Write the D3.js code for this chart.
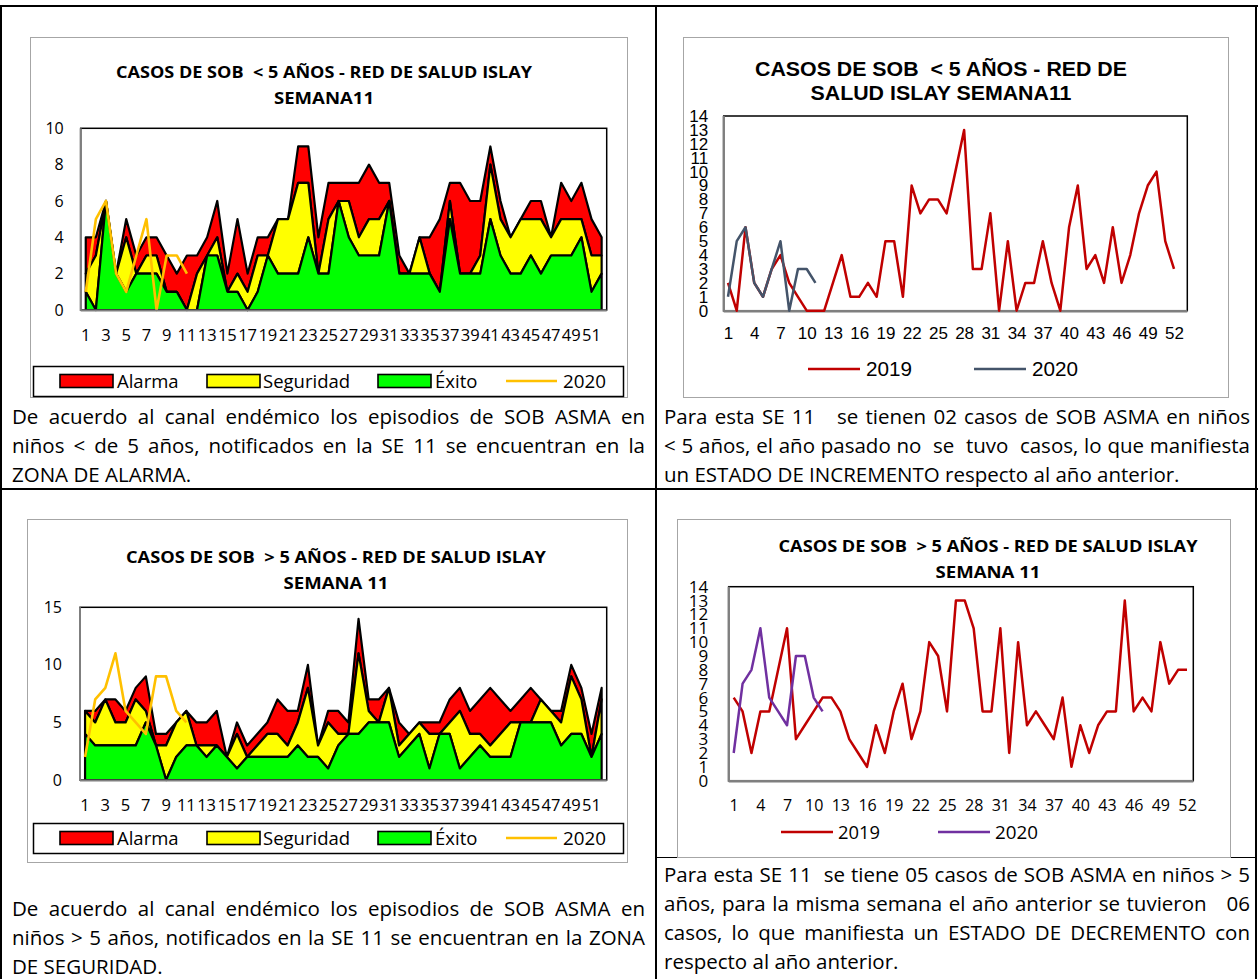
<!DOCTYPE html>
<html><head><meta charset="utf-8">
<script src="https://cdn.jsdelivr.net/npm/d3@7"></script>
<style>body{margin:0;background:#fff}svg{display:block}</style>
</head><body>
<svg id="c" width="1258" height="979"></svg>
<script>
// ---------------- DATA ----------------
const weeks = d3.range(1, 53);
const xTicksOdd = weeks.filter(w => w % 2 === 1);
const xTicksTri = weeks.filter(w => (w - 1) % 3 === 0);
const yTicksMenores = [0, 2, 4, 6, 8, 10];
const yTicksMayores = [0, 5, 10, 15];
const yTicksLineas = d3.range(0, 15);

// Canal endémico < 5 años (límites superiores de cada zona)
const menoresExito     = [1,0,6,2,1,2,2,2,1,1,0,0,3,3,1,1,0,1,3,2,2,2,4,2,2,6,4,3,3,3,6,2,2,2,2,1,5,2,2,2,5,3,2,2,3,2,3,3,3,4,1,2];
const menoresSeguridad = [2,3,6,2,4,2,3,3,1,1,0,2,3,4,1,2,1,3,3,5,5,7,7,2,5,6,6,4,5,5,6,2,2,4,2,1,6,2,2,3,8,5,4,5,5,5,4,5,5,5,3,3];
const menoresAlarma    = [4,4,6,2,5,3,4,4,3,2,3,3,4,6,2,5,2,4,4,5,5,9,9,4,7,7,7,7,8,7,7,3,2,4,4,5,7,7,6,6,9,6,4,5,6,6,4,7,6,7,5,4];
const menores2020      = [1,5,6,2,1,3,5,0,3,3,2];

// Canal endémico > 5 años
const mayoresExito     = [4,3,3,3,3,3,5,3,0,2,3,3,2,3,2,1,2,2,2,2,2,3,2,2,1,3,4,4,5,5,5,2,3,4,1,4,4,1,2,3,2,2,2,5,5,5,5,3,4,4,2,4];
const mayoresSeguridad = [6,5,7,5,5,7,6,3,3,5,6,3,3,3,2,4,2,3,4,4,3,5,8,3,5,4,4,11,6,5,8,3,4,5,4,4,5,6,4,4,3,4,5,5,5,7,6,5,9,7,2,7];
const mayoresAlarma    = [6,6,7,7,6,8,9,4,4,5,6,5,5,6,2,5,3,4,5,7,6,6,10,3,6,6,5,14,7,7,8,5,4,5,5,5,7,8,6,7,8,7,6,7,8,7,6,6,10,8,4,8];
const mayores2020      = [2,7,8,11,6,5,4,9,9,6,5];

// Casos semanales (líneas)
const menoresCasos2019 = [2,0,6,2,1,3,4,2,1,0,0,0,2,4,1,1,2,1,5,5,1,9,7,8,8,7,10,13,3,3,7,0,5,0,2,2,5,2,0,6,9,3,4,2,6,2,4,7,9,10,5,3];
const menoresCasos2020 = [1,5,6,2,1,3,5,0,3,3,2];
const mayoresCasos2019 = [6,5,2,5,5,8,11,3,4,5,6,6,5,3,2,1,4,2,5,7,3,5,10,9,5,13,13,11,5,5,11,2,10,4,5,4,3,6,1,4,2,4,5,5,13,5,6,5,10,7,8,8];
const mayoresCasos2020 = [2,7,8,11,6,5,4,9,9,6,5];

const legendEndemico = ["Alarma", "Seguridad", "Éxito", "2020"];
const legendLineas = ["2019", "2020"];

const textoTL = ["De acuerdo al canal endémico los episodios de SOB ASMA en",
  "niños < de 5 años, notificados en la SE 11 se encuentran en la",
  "ZONA DE ALARMA."];
const textoTR = ["Para esta SE 11   se tienen 02 casos de SOB ASMA en niños",
  "< 5 años, el año pasado no  se  tuvo  casos, lo que manifiesta",
  "un ESTADO DE INCREMENTO respecto al año anterior."];
const textoBL = ["De acuerdo al canal endémico los episodios de SOB ASMA en",
  "niños > 5 años, notificados en la SE 11 se encuentran en la ZONA",
  "DE SEGURIDAD."];
const textoBR = ["Para esta SE 11  se tiene 05 casos de SOB ASMA en niños > 5",
  "años, para la misma semana el año anterior se tuvieron   06",
  "casos, lo que manifiesta un ESTADO DE DECREMENTO con",
  "respecto al año anterior."];

// ---------------- DRAWING ----------------
const CAL = "'Open Sans', Lato, sans-serif";
const ARIAL = "'Liberation Sans', Arial, Helvetica, sans-serif";
const COL = {alarma: "#FF0000", seguridad: "#FFFF00", exito: "#00FF00", y2020: "#FFC000"};
const svg = d3.select("#c");
svg.append("rect").attr("width", 1258).attr("height", 979).attr("fill", "#fff");

function fitText(sel, w) {
  if (!w) return sel;
  const n = sel.node().getComputedTextLength();
  if (Math.abs(n - w) / w > 0.015) sel.attr("textLength", w).attr("lengthAdjust", "spacingAndGlyphs");
  return sel;
}
function box(g, b, stroke, sw) {
  g.append("rect").attr("x", b[0] + 0.5).attr("y", b[1] + 0.5)
    .attr("width", b[2] - b[0]).attr("height", b[3] - b[1])
    .attr("fill", "none").attr("stroke", stroke || "#a6a6a6").attr("stroke-width", sw || 1);
}

// table borders
const tb = svg.append("g").attr("stroke", "#000").attr("stroke-width", 2);
tb.append("line").attr("x1", 0).attr("x2", 1258).attr("y1", 6).attr("y2", 6);
tb.append("line").attr("x1", 1).attr("x2", 1).attr("y1", 6).attr("y2", 979);
tb.append("line").attr("x1", 1256).attr("x2", 1256).attr("y1", 6).attr("y2", 979);
tb.append("line").attr("x1", 656).attr("x2", 656).attr("y1", 6).attr("y2", 979);
tb.append("line").attr("x1", 0).attr("x2", 1258).attr("y1", 489).attr("y2", 489);
tb.append("line").attr("x1", 656).attr("x2", 1256).attr("y1", 857.5).attr("y2", 857.5).attr("stroke-width", 1);

function endemic(c) {
  const g = svg.append("g");
  box(g, c.box);
  c.title.forEach((t, i) => fitText(g.append("text").attr("x", c.titleX).attr("y", c.titleY[i])
    .attr("text-anchor", "middle").attr("font-family", CAL).attr("font-weight", 700)
    .attr("font-size", 16.5).attr("fill", "#000").attr("xml:space", "preserve").text(t), c.titleW[i]));

  const x = d3.scaleBand().domain(weeks).range([c.plot.l, c.plot.r]);
  const px = w => x(w) + x.bandwidth() / 2;
  const y = d3.scaleLinear().domain([0, c.yMax]).range([c.plot.b, c.plot.t]);

  g.append("rect").attr("x", c.plot.l).attr("y", c.plot.t).attr("width", c.plot.r - c.plot.l)
    .attr("height", c.plot.b - c.plot.t).attr("fill", "#fff").attr("stroke", "#000").attr("stroke-width", 1.5);

  const bands = [
    {lo: c.seguridad, hi: c.alarma, fill: COL.alarma},
    {lo: c.exito, hi: c.seguridad, fill: COL.seguridad},
    {lo: null, hi: c.exito, fill: COL.exito}
  ];
  bands.forEach(b => {
    const a = d3.area().x((d, i) => px(weeks[i])).y0((d, i) => y(b.lo ? b.lo[i] : 0)).y1(d => y(d));
    g.append("path").datum(b.hi).attr("d", a).attr("fill", b.fill)
      .attr("stroke", "#000").attr("stroke-width", 2.2).attr("stroke-linejoin", "round");
  });
  const ln = d3.line().x((d, i) => px(weeks[i])).y(d => y(d));
  g.append("path").datum(c.y2020).attr("d", ln).attr("fill", "none")
    .attr("stroke", COL.y2020).attr("stroke-width", 2.6).attr("stroke-linejoin", "round");

  g.append("line").attr("x1", c.plot.l).attr("x2", c.plot.l).attr("y1", c.plot.t).attr("y2", c.plot.b + 1)
    .attr("stroke", "#7f7f7f").attr("stroke-width", 2);
  g.append("line").attr("x1", c.plot.l).attr("x2", c.plot.r).attr("y1", c.plot.b + 0.5).attr("y2", c.plot.b + 0.5)
    .attr("stroke", "#7f7f7f").attr("stroke-width", 2.2);

  const ya = g.append("g").attr("transform", `translate(${c.plot.l},0)`)
    .call(d3.axisLeft(y).tickValues(c.yTicks).tickSize(0).tickPadding(c.yPad));
  ya.select(".domain").remove();
  ya.selectAll("text").attr("font-family", CAL).attr("font-size", 16).attr("fill", "#000");
  const xa = g.append("g").attr("transform", `translate(0,${c.plot.b})`)
    .call(d3.axisBottom(x).tickValues(c.xTicks).tickSize(0));
  xa.select(".domain").remove();
  xa.selectAll("text").attr("y", c.xBase - c.plot.b).attr("dy", 0)
    .attr("font-family", CAL).attr("font-size", 16.5).attr("fill", "#000");

  // legend
  box(g, c.legendBox, "#000", 1.5);
  const ly = c.legendY;
  const sw = [[60, 113, COL.alarma], [207, 260, COL.seguridad], [378, 431, COL.exito]];
  sw.forEach((s, i) => {
    g.append("rect").attr("x", s[0]).attr("y", ly - 6.5).attr("width", s[1] - s[0]).attr("height", 13)
      .attr("fill", s[2]).attr("stroke", "#000").attr("stroke-width", 1.6);
  });
  g.append("line").attr("x1", 506).attr("x2", 557).attr("y1", ly).attr("y2", ly)
    .attr("stroke", COL.y2020).attr("stroke-width", 2.6);
  const lx = [[117, 62], [263, 87], [435, 43], [563, 43]];
  legendEndemico.forEach((t, i) => fitText(g.append("text").attr("x", lx[i][0]).attr("y", ly + 6.5)
    .attr("font-family", CAL).attr("font-size", 18.5).attr("fill", "#000").text(t), lx[i][1]));
}

function lineChart(c) {
  const g = svg.append("g");
  box(g, c.box);
  c.title.forEach((t, i) => fitText(g.append("text").attr("x", c.titleX).attr("y", c.titleY[i])
    .attr("text-anchor", "middle").attr("font-family", c.titleFont).attr("font-weight", 700)
    .attr("font-size", c.titleSize).attr("fill", "#000").attr("xml:space", "preserve").text(t), c.titleW[i]));

  const x = d3.scalePoint().domain(weeks).range(c.xRange);
  const y = d3.scaleLinear().domain([0, 14]).range([c.plot.b, c.plot.t]);

  g.append("rect").attr("x", c.plot.l).attr("y", c.plot.t).attr("width", c.plot.r - c.plot.l)
    .attr("height", c.plot.b - c.plot.t).attr("fill", "#fff").attr("stroke", "#000").attr("stroke-width", 1.5);
  g.append("line").attr("x1", c.plot.l).attr("x2", c.plot.l).attr("y1", c.plot.t).attr("y2", c.plot.b + 1)
    .attr("stroke", "#7f7f7f").attr("stroke-width", 2.2);
  g.append("line").attr("x1", c.plot.l).attr("x2", c.plot.r).attr("y1", c.plot.b + 0.5).attr("y2", c.plot.b + 0.5)
    .attr("stroke", "#7f7f7f").attr("stroke-width", 2.6);

  const ln = d3.line().x((d, i) => x(weeks[i])).y(d => y(d));
  g.append("path").datum(c.s2019).attr("d", ln).attr("fill", "none").attr("stroke", "#C00000")
    .attr("stroke-width", 2.5).attr("stroke-linejoin", "round");
  g.append("path").datum(c.s2020).attr("d", ln).attr("fill", "none").attr("stroke", c.c2020)
    .attr("stroke-width", 2.5).attr("stroke-linejoin", "round");

  const ya = g.append("g").attr("transform", `translate(${c.plot.l},0)`)
    .call(d3.axisLeft(y).tickValues(yTicksLineas).tickSize(0).tickPadding(c.yPad));
  ya.select(".domain").remove();
  ya.selectAll("text").attr("font-family", c.axisFont).attr("font-size", c.ySize).attr("fill", "#000");
  const xa = g.append("g").attr("transform", `translate(0,${c.plot.b})`)
    .call(d3.axisBottom(x).tickValues(xTicksTri).tickSize(0));
  xa.select(".domain").remove();
  xa.selectAll("text").attr("y", c.xBase - c.plot.b).attr("dy", 0)
    .attr("font-family", c.axisFont).attr("font-size", c.axisSize).attr("fill", "#000");

  const cols = ["#C00000", c.c2020];
  c.legend.forEach((L, i) => {
    g.append("line").attr("x1", L[0]).attr("x2", L[1]).attr("y1", c.legendY).attr("y2", c.legendY)
      .attr("stroke", cols[i]).attr("stroke-width", 2.5);
    fitText(g.append("text").attr("x", L[2]).attr("y", c.legendY + 7).attr("font-family", c.axisFont)
      .attr("font-size", c.legendSize).attr("fill", "#000").text(legendLineas[i]), L[3]);
  });
}

endemic({
  box: [30, 37, 627, 397],
  title: ["CASOS DE SOB  < 5 AÑOS - RED DE SALUD ISLAY", "SEMANA11"], titleX: 324, titleY: [78, 104], titleW: [416, 100],
  plot: {l: 80.7, r: 606.7, t: 128.3, b: 310},
  yMax: 10, yTicks: yTicksMenores, yPad: 17, xTicks: xTicksOdd, xBase: 341,
  exito: menoresExito, seguridad: menoresSeguridad, alarma: menoresAlarma, y2020: menores2020,
  legendBox: [33, 366, 623, 396], legendY: 381
});
endemic({
  box: [27, 519, 627, 862],
  title: ["CASOS DE SOB  > 5 AÑOS - RED DE SALUD ISLAY", "SEMANA 11"], titleX: 336, titleY: [563, 589], titleW: [420, 105],
  plot: {l: 80, r: 606.7, t: 607.3, b: 780},
  yMax: 15, yTicks: yTicksMayores, yPad: 18, xTicks: xTicksOdd, xBase: 811,
  exito: mayoresExito, seguridad: mayoresSeguridad, alarma: mayoresAlarma, y2020: mayores2020,
  legendBox: [33, 823, 623, 853], legendY: 838
});
lineChart({
  box: [683, 37, 1228, 397],
  title: ["CASOS DE SOB  < 5 AÑOS - RED DE", "SALUD ISLAY SEMANA11"], titleX: 941, titleY: [76, 100], titleW: [372, 261],
  titleFont: ARIAL, titleSize: 20,
  plot: {l: 723.7, r: 1187.3, t: 116, b: 310.7}, xRange: [728, 1174],
  yPad: 15.5, xBase: 339, axisFont: ARIAL, axisSize: 17, ySize: 17,
  s2019: menoresCasos2019, s2020: menoresCasos2020, c2020: "#44546A",
  legend: [[808, 860, 866, 46], [974, 1026, 1032, 46]], legendY: 369, legendSize: 20
});
lineChart({
  box: [677, 519, 1230, 857],
  title: ["CASOS DE SOB  > 5 AÑOS - RED DE SALUD ISLAY", "SEMANA 11"], titleX: 988, titleY: [552, 578], titleW: [419, 105],
  titleFont: CAL, titleSize: 16.5,
  plot: {l: 728.7, r: 1193.3, t: 586.7, b: 780.7}, xRange: [733.7, 1187],
  yPad: 20.5, xBase: 811, axisFont: CAL, axisSize: 16, ySize: 17,
  s2019: mayoresCasos2019, s2020: mayoresCasos2020, c2020: "#7030A0",
  legend: [[781, 833, 838, 42], [938, 990, 995, 43]], legendY: 832, legendSize: 18
});

// paragraphs (justified)
const PF = 20.5;
const meas = svg.append("text").attr("font-family", CAL).attr("font-size", PF).attr("x", -1000).attr("y", -1000);
function measure(s) { meas.text(s); return s ? meas.node().getComputedTextLength() : 0; }
function para(x0, x1, bases, lines, lastFree) {
  const g = svg.append("g").attr("font-family", CAL).attr("font-size", PF).attr("fill", "#000");
  lines.forEach((ln, i) => {
    const yb = bases[i];
    if (i === lines.length - 1 && lastFree) {
      g.append("text").attr("x", x0).attr("y", yb).text(ln);
      return;
    }
    const tokens = ln.split(" ");
    const widths = tokens.map(measure);
    const gap = (x1 - x0 - d3.sum(widths)) / (tokens.length - 1);
    if (gap < 2.5) {
      g.append("text").attr("x", x0).attr("y", yb).attr("xml:space", "preserve")
        .attr("textLength", x1 - x0).attr("lengthAdjust", "spacingAndGlyphs").text(ln);
      return;
    }
    let cx = x0;
    tokens.forEach((t, j) => {
      if (t) g.append("text").attr("x", cx).attr("y", yb).text(t);
      cx += widths[j] + gap;
    });
  });
}
para(12, 645, [424, 453, 482], textoTL, true);
para(664, 1250, [424, 453, 482], textoTR, true);
para(12, 645, [916, 945, 974], textoBL, true);
para(664, 1250, [882, 911, 940, 969], textoBR, true);
meas.remove();
</script>
</body></html>
